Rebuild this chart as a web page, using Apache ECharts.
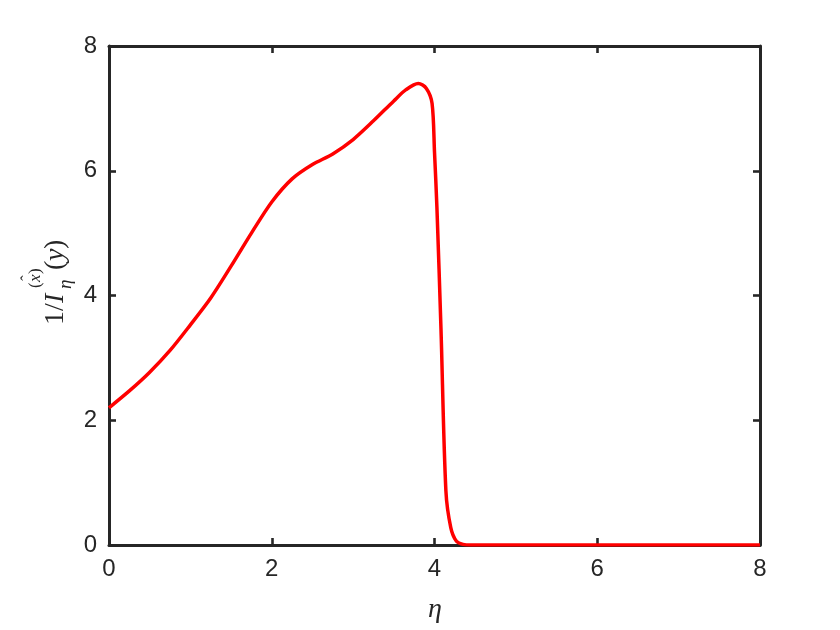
<!DOCTYPE html>
<html>
<head>
<meta charset="utf-8">
<script src="https://cdn.jsdelivr.net/npm/echarts@6/dist/echarts.min.js"></script>
<style>
  html, body { margin: 0; padding: 0; background: #fff; }
  #chart { width: 840px; height: 630px; }
</style>
</head>
<body>
<div id="chart"></div>
<script>
// data
const etaValues = [0, 0.25, 0.5, 0.75, 1, 1.25, 1.5, 1.75, 2, 2.25, 2.5, 2.75, 3, 3.25, 3.5, 3.65, 3.8, 3.9, 3.97, 4.0, 4.03, 4.08, 4.14, 4.2, 4.27, 4.35, 4.45, 5, 6, 7, 8];
const invIValues = [2.2, 2.47, 2.77, 3.12, 3.53, 3.96, 4.47, 5.0, 5.5, 5.87, 6.1, 6.27, 6.5, 6.8, 7.12, 7.3, 7.4, 7.32, 7.08, 6.3, 5.4, 3.45, 0.87, 0.28, 0.06, 0.01, 0, 0, 0, 0, 0];
const xTicks = [0, 2, 4, 6, 8];
const yTicks = [0, 2, 4, 6, 8];

const axisColor = "#262626";
const el = document.getElementById("chart");
const chart = echarts.init(el);

const lineData = etaValues.map((x, i) => [x, invIValues[i]]);

// shared axis look (box with inward ticks on every side)
function boxAxis(position, showLabel, ticks) {
  return {
    type: "value",
    position: position,
    min: ticks[0],
    max: ticks[ticks.length - 1],
    interval: ticks[1] - ticks[0],
    axisLine: { show: true, onZero: false, lineStyle: { color: axisColor, width: 3 } },
    axisTick: { show: true, inside: true, length: 7, lineStyle: { color: axisColor, width: 2.6 } },
    axisLabel: {
      show: showLabel,
      color: axisColor,
      fontSize: 24,
      fontFamily: "Liberation Sans",
      margin: 12,
    },
    splitLine: { show: false },
  };
}

const serif = "'Liberation Serif', serif";

// y-axis title 1/I_eta^(x^)(y), built from pieces in a rotated group
function piece(x, y, text, font) {
  return { type: "text", x: x, y: y, style: { text: text, font: font + " " + serif, fill: axisColor, verticalAlign: "middle" } };
}
const yTitle = {
  type: "group",
  x: 65,
  y: 325,
  rotation: Math.PI / 2,
  children: [
    piece(0, -9, "1", "28px"),
    piece(14, -9, "/", "28px"),
    piece(22, -9, "I", "italic 28px"),
    piece(36, 1, "η", "italic 19px"),
    piece(37, -29, "(", "17px"),
    piece(43, -29, "x", "italic 17px"),
    piece(44, -37, "ˆ", "17px"),
    piece(51, -29, ")", "17px"),
    piece(55, -9, "(", "28px"),
    piece(64, -9, "y", "italic 28px"),
    piece(76, -9, ")", "28px"),
  ],
};

const options = {
  animation: false,
  backgroundColor: "#ffffff",
  grid: { left: 109, right: 80, top: 46, bottom: 85, containLabel: false },
  xAxis: [boxAxis("bottom", true, xTicks), boxAxis("top", false, xTicks)],
  yAxis: [boxAxis("left", true, yTicks), boxAxis("right", false, yTicks)],
  graphic: [
    {
      type: "text",
      x: 435,
      y: 610,
      style: { text: "η", font: "italic 28px " + serif, fill: axisColor, align: "center", verticalAlign: "middle" },
    },
    yTitle,
  ],
  series: [
    {
      type: "line",
      xAxisIndex: 0,
      yAxisIndex: 0,
      data: lineData,
      smooth: 0.3,
      symbol: "none",
      clip: true,
      lineStyle: { color: "#ff0000", width: 3.5 },
    },
  ],
};
chart.setOption(options);
</script>
</body>
</html>
